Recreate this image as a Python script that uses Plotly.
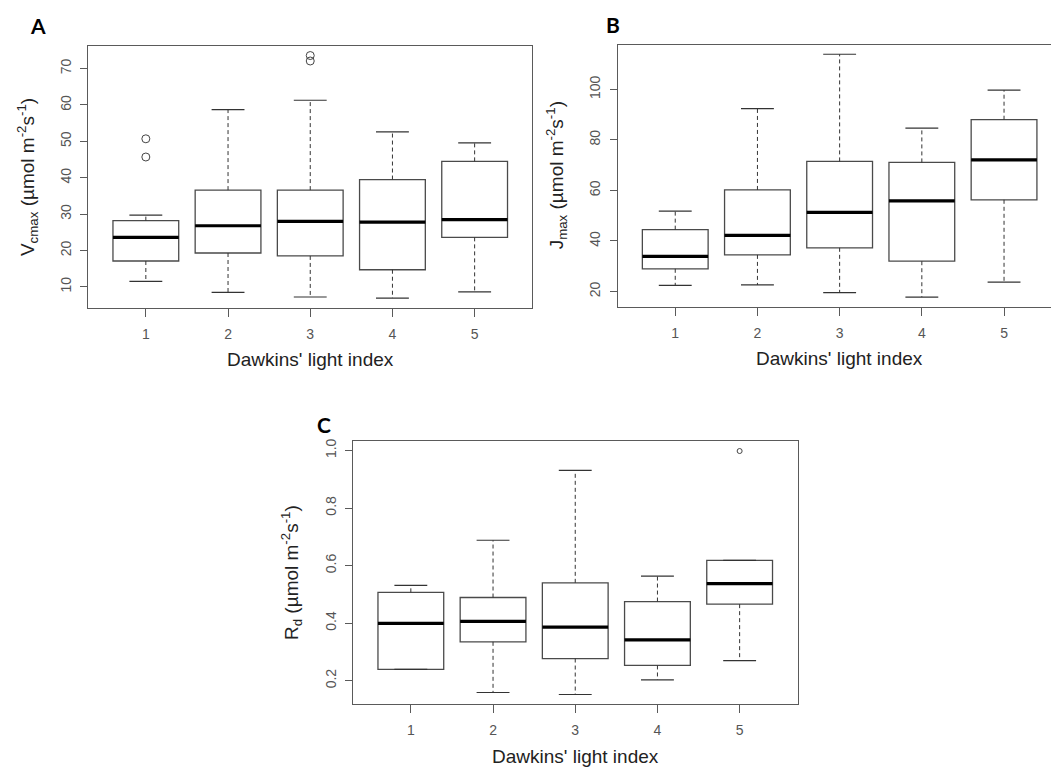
import plotly.graph_objects as go

# Dawkins' light index classes
light_index = [1, 2, 3, 4, 5]
tick_labels = ["1", "2", "3", "4", "5"]

# Vcmax (panel A) box statistics
vcmax_lower = [11.5, 8.5, 7.2, 6.9, 8.6]
vcmax_q1 = [17.1, 19.3, 18.5, 14.7, 23.6]
vcmax_median = [23.6, 26.8, 28.0, 27.8, 28.5]
vcmax_q3 = [28.2, 36.6, 36.6, 39.5, 44.5]
vcmax_upper = [29.7, 58.7, 61.3, 52.6, 49.6]
vcmax_out_x = [1, 1, 3, 3]
vcmax_out_y = [45.7, 50.7, 72.1, 73.6]

# Jmax (panel B) box statistics
jmax_lower = [22.4, 22.6, 19.6, 17.8, 23.7]
jmax_q1 = [29.0, 34.5, 37.3, 32.0, 56.3]
jmax_median = [33.9, 42.2, 51.3, 55.9, 72.1]
jmax_q3 = [44.5, 60.2, 71.5, 71.1, 88.0]
jmax_upper = [51.8, 92.4, 113.9, 84.7, 99.7]
jmax_out_x = []
jmax_out_y = []

# Rd (panel C) box statistics
rd_lower = [0.239, 0.159, 0.152, 0.203, 0.270]
rd_q1 = [0.239, 0.335, 0.277, 0.253, 0.466]
rd_median = [0.399, 0.406, 0.386, 0.342, 0.537]
rd_q3 = [0.507, 0.489, 0.540, 0.475, 0.618]
rd_upper = [0.531, 0.688, 0.931, 0.563, 0.618]
rd_out_x = [5]
rd_out_y = [0.998]

W, H = 1051, 769
FRAME = "#5a5a5a"
BOXLINE = "#4a4a4a"
TICKFONT = dict(family="Liberation Sans, Arial, sans-serif", size=14, color="#555555")
TITLEFONT = dict(family="Liberation Sans, Arial, sans-serif", size=19, color="#222222")

panels = [
    dict(letter="A", xa="x", ya="y",
         lower=vcmax_lower, q1=vcmax_q1, med=vcmax_median, q3=vcmax_q3, upper=vcmax_upper,
         ox=vcmax_out_x, oy=vcmax_out_y, osize=8,
         xdom=(88.3, 531.7), ytop=43, ybot=306, dtick=10, tfmt="d",
         ytitle="V<sub>cmax</sub> (µmol m<sup>-2</sup>s<sup>-1</sup>)", ytshift=-60,
         right=True, letter_xy=(38, 23)),
    dict(letter="B", xa="x2", ya="y2",
         lower=jmax_lower, q1=jmax_q1, med=jmax_median, q3=jmax_q3, upper=jmax_upper,
         ox=jmax_out_x, oy=jmax_out_y, osize=8,
         xdom=(617.7, 1051), ytop=41.7, ybot=305, dtick=20, tfmt="d",
         ytitle="J<sub>max</sub> (µmol m<sup>-2</sup>s<sup>-1</sup>)", ytshift=-61,
         right=False, letter_xy=(613, 22)),
    dict(letter="C", xa="x3", ya="y3",
         lower=rd_lower, q1=rd_q1, med=rd_median, q3=rd_q3, upper=rd_upper,
         ox=rd_out_x, oy=rd_out_y, osize=5,
         xdom=(353.3, 798.3), ytop=440, ybot=704, dtick=0.2, tfmt=".1f",
         ytitle="R<sub>d</sub> (µmol m<sup>-2</sup>s<sup>-1</sup>)", ytshift=-62,
         right=True, letter_xy=(324, 423)),
]

fig = go.Figure()
annotations = []
layout_axes = {}

UNIT_PX = 82.2  # pixel width of one index step, shared by all panels

for p in panels:
    xa, ya = p["xa"], p["ya"]

    # box body (whiskers drawn separately, R style)
    fig.add_trace(go.Box(
        x=light_index, q1=p["q1"], median=p["med"], q3=p["q3"],
        lowerfence=p["q1"], upperfence=p["q3"],
        width=0.8, whiskerwidth=0, boxpoints=False,
        fillcolor="white", line=dict(color=BOXLINE, width=1.3),
        xaxis=xa, yaxis=ya, showlegend=False, hoverinfo="skip",
    ))

    # dashed whiskers
    wx, wy = [], []
    for i, lo, a, b, hi in zip(light_index, p["lower"], p["q1"], p["q3"], p["upper"]):
        wx += [i, i, None, i, i, None]
        wy += [b, hi, None, a, lo, None]
    fig.add_trace(go.Scatter(x=wx, y=wy, mode="lines", xaxis=xa, yaxis=ya,
                             line=dict(color="#333333", width=1, dash="4px,3px"),
                             showlegend=False, hoverinfo="skip"))

    # whisker staples
    sx, sy = [], []
    for i, lo, hi in zip(light_index, p["lower"], p["upper"]):
        sx += [i - 0.2, i + 0.2, None, i - 0.2, i + 0.2, None]
        sy += [hi, hi, None, lo, lo, None]
    fig.add_trace(go.Scatter(x=sx, y=sy, mode="lines", xaxis=xa, yaxis=ya,
                             line=dict(color="#333333", width=1.2),
                             showlegend=False, hoverinfo="skip"))

    # heavy median bars
    mx, my = [], []
    for i, m in zip(light_index, p["med"]):
        mx += [i - 0.4, i + 0.4, None]
        my += [m, m, None]
    fig.add_trace(go.Scatter(x=mx, y=my, mode="lines", xaxis=xa, yaxis=ya,
                             line=dict(color="black", width=3.2),
                             showlegend=False, hoverinfo="skip"))

    # outliers
    if p["ox"]:
        fig.add_trace(go.Scatter(x=p["ox"], y=p["oy"], mode="markers", xaxis=xa, yaxis=ya,
                                 marker=dict(symbol="circle-open", size=p["osize"],
                                             color="#444444", line=dict(width=1)),
                                 showlegend=False, hoverinfo="skip"))

    # axis ranges, padded 4% like R's default
    vals = p["lower"] + p["upper"] + p["oy"]
    lo, hi = min(vals), max(vals)
    pad = 0.04 * (hi - lo)
    x0, x1 = p["xdom"]
    xmax = 0.3 + (x1 - x0) / UNIT_PX
    sfx_x = xa[1:]
    sfx_y = ya[1:]

    layout_axes["xaxis" + sfx_x] = dict(
        domain=[x0 / W, x1 / W], range=[0.3, xmax], anchor=ya,
        tickmode="array", tickvals=light_index, ticktext=tick_labels,
        ticks="outside", ticklen=8, tickwidth=1, tickcolor=FRAME,
        tickfont=TICKFONT, ticklabelstandoff=5,
        showline=True, linecolor=FRAME, linewidth=1.2, mirror=True,
        showgrid=False, zeroline=False,
    )
    layout_axes["yaxis" + sfx_y] = dict(
        domain=[1 - p["ybot"] / H, 1 - p["ytop"] / H], range=[lo - pad, hi + pad], anchor=xa,
        tick0=0, dtick=p["dtick"], tickformat=p["tfmt"], tickangle=-90,
        ticks="outside", ticklen=7, tickwidth=1, tickcolor=FRAME,
        tickfont=TICKFONT, ticklabelstandoff=4,
        showline=True, linecolor=FRAME, linewidth=1.2, mirror=p["right"],
        showgrid=False, zeroline=False,
    )

    # x title is centred on the full 0.3-5.7 span (panel B runs past the page edge)
    span_mid = x0 + 2.7 * UNIT_PX
    annotations.append(dict(text="Dawkins' light index", xref="paper", x=span_mid / W,
                            yref="paper", y=1 - p["ybot"] / H, yshift=-52,
                            xanchor="center", yanchor="middle", showarrow=False, font=TITLEFONT))
    annotations.append(dict(text=p["ytitle"], xref="paper", x=x0 / W, xshift=p["ytshift"],
                            yref="paper", y=1 - (p["ytop"] + p["ybot"]) / 2 / H,
                            textangle=-90, xanchor="center", yanchor="middle",
                            showarrow=False, font=TITLEFONT))
    # panel letter
    lx, ly = p["letter_xy"]
    annotations.append(dict(text="<b>%s</b>" % p["letter"], xref="paper", yref="paper",
                            x=lx / W, y=1 - ly / H, xanchor="center", yanchor="middle",
                            showarrow=False,
                            font=dict(family="Lato, Open Sans, sans-serif", size=21, color="black")))

fig.update_layout(
    width=W, height=H, margin=dict(l=0, r=0, t=0, b=0),
    paper_bgcolor="white", plot_bgcolor="white",
    annotations=annotations, showlegend=False,
    **layout_axes,
)

fig.write_html("out.html")
